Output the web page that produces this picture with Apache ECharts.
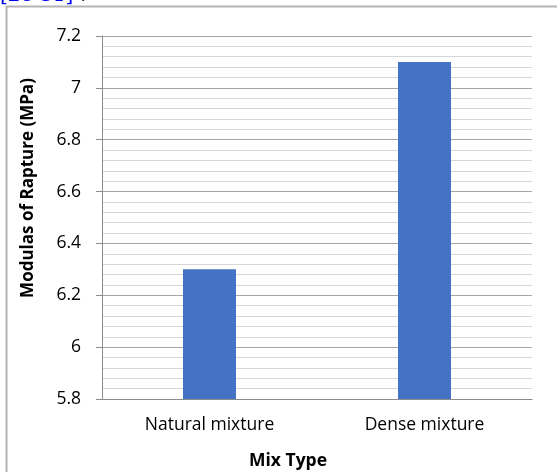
<!DOCTYPE html>
<html>
<head>
<meta charset="utf-8">
<script src="https://cdn.jsdelivr.net/npm/echarts@6/dist/echarts.min.js"></script>
<style>
  html, body { margin: 0; padding: 0; background: #fff; }
  #chart { width: 557px; height: 472px; }
</style>
</head>
<body>
<div id="chart"></div>
<script>
// Modulus of rupture by mix type
const categories = ['Natural mixture', 'Dense mixture'];
const ruptureValues = [6.3, 7.1];
const yMin = 5.8;
const yMax = 7.2;
const yStep = 0.2;

const chart = echarts.init(document.getElementById('chart'), null, { renderer: 'canvas' });
const font = 'Open Sans, Liberation Sans, sans-serif';

chart.setOption({
  animation: false,
  backgroundColor: '#ffffff',
  grid: { left: 102, right: 25, top: 36, bottom: 73 },
  xAxis: {
    type: 'category',
    data: categories,
    axisLine: { show: true, lineStyle: { color: '#8c8c8c', width: 1 } },
    axisTick: { show: false },
    axisLabel: { color: '#000', fontFamily: font, fontSize: 17.5, margin: 17 },
    splitLine: { show: false }
  },
  yAxis: {
    type: 'value',
    min: yMin,
    max: yMax,
    interval: yStep,
    axisLine: { show: true, lineStyle: { color: '#8c8c8c', width: 1 } },
    axisTick: { show: true, length: 6, lineStyle: { color: '#8c8c8c' } },
    axisLabel: {
      color: '#000', fontFamily: font, fontSize: 17.5, margin: 21,
      formatter: v => String(+v.toFixed(1))
    },
    splitLine: { show: true, lineStyle: { color: '#a6a6a6', width: 1 } },
    minorTick: { show: false, splitNumber: 5 },
    minorSplitLine: { show: true, lineStyle: { color: '#d6d6d6', width: 1 } }
  },
  series: [{
    type: 'bar',
    data: ruptureValues,
    barWidth: 53,
    itemStyle: { color: '#4472c4' }
  }],
  graphic: [
    // frame around the chart area
    { type: 'line', shape: { x1: 6, y1: 6.5, x2: 557, y2: 6.5 }, style: { stroke: '#b3b3b3', lineWidth: 2 } },
    { type: 'line', shape: { x1: 6.5, y1: 6, x2: 6.5, y2: 472 }, style: { stroke: '#b3b3b3', lineWidth: 2 } },
    // citation text above the frame
    { type: 'text', x: 0, y: 5.5, style: { text: '[28-31]', fill: '#0000ee', font: '20px "DejaVu Serif", serif', verticalAlign: 'bottom' } },
    { type: 'text', x: 80, y: 5.5, style: { text: '.', fill: '#000', font: '20px "DejaVu Serif", serif', verticalAlign: 'bottom' } },
    // axis titles
    {
      type: 'text', x: 288, y: 461,
      style: { text: 'Mix Type', fill: '#000', font: 'bold 17.5px ' + font, align: 'center', verticalAlign: 'middle' }
    },
    {
      type: 'text', x: 28, y: 188, rotation: Math.PI / 2,
      style: { text: 'Modulas of Rapture (MPa)', fill: '#000', font: 'bold 17px ' + font, align: 'center', verticalAlign: 'middle' }
    }
  ]
});
</script>
</body>
</html>
